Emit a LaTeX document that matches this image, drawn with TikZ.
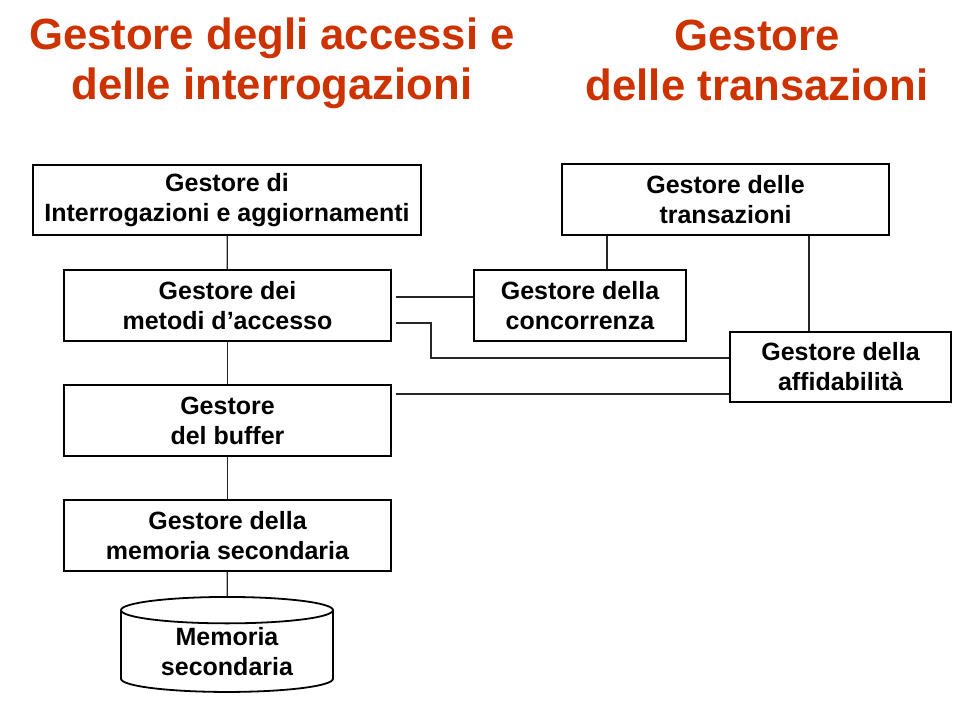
\documentclass[tikz,border=0pt]{standalone}
\usepackage{fontspec}
\setmainfont{Liberation Sans}
\usepackage{xcolor}
\usepackage{tikz}
\usetikzlibrary{shapes.geometric}
\definecolor{titlered}{RGB}{204,51,0}

\begin{document}
\begin{tikzpicture}[x=1pt, y=-1pt,
    modulo/.style={draw, line width=1.8pt, align=center, inner sep=0pt,
      font=\fontsize{25}{30}\selectfont\bfseries},
    titolo/.style={align=center, text=titlered,
      font=\fontsize{43.7}{50}\selectfont\bfseries},
    link/.style={line width=1.2pt, draw=black!85}]
        \useasboundingbox (0, 0) rectangle (976, 719);

        \node[titolo] (T1) at (272, 63) {Gestore degli accessi e\\delle interrogazioni};
        \node[titolo] (T2) at (757, 60) {Gestore\\delle transazioni};

        \node[modulo, minimum width=388pt, minimum height=70pt] (query) at (227, 200)
          {Gestore di\\Interrogazioni e aggiornamenti};
        \node[modulo, minimum width=327pt, minimum height=71pt] (metodi) at (227.5, 305.5)
          {Gestore dei\\metodi d’accesso};
        \node[modulo, minimum width=327pt, minimum height=71pt] (buffer) at (227.5, 420.5)
          {Gestore\\del buffer};
        \node[modulo, minimum width=327pt, minimum height=71pt] (memsec) at (227.5, 535.5)
          {Gestore della\\memoria secondaria};
        \node[modulo, cylinder, shape border rotate=90, aspect=0.2,
          minimum width=212pt, minimum height=95pt] (disco) at (227, 651.5)
          {Memoria\\secondaria};

        \node[modulo, minimum width=327pt, minimum height=71pt] (trans) at (725.5, 199.5)
          {Gestore delle\\transazioni};
        \node[modulo, minimum width=212pt, minimum height=71pt] (conc) at (580, 305.5)
          {Gestore della\\concorrenza};
        \node[modulo, minimum width=221pt, minimum height=70pt] (aff) at (840.5, 367)
          {Gestore della\\affidabilità};

        \draw[link] (query) -- (metodi);
        \draw[link] (metodi) -- (buffer);
        \draw[link] (buffer) -- (memsec);
        \draw[link] (memsec) -- (disco);

        \draw[link] ([xshift=27pt]conc.north) -- ([xshift=27pt]conc.north |- trans.south);
        \draw[link] ([xshift=-31.5pt]aff.north) -- ([xshift=-31.5pt]aff.north |- trans.south);

        \draw[link] ([xshift=4pt, yshift=8.5pt]metodi.east) -- ([yshift=8.5pt]conc.west);
        \draw[link] ([xshift=4pt, yshift=-17.5pt]metodi.east) -- ++(35, 0)
          |- ([yshift=9pt]aff.west);
        \draw[link] ([xshift=4pt, yshift=26.5pt]buffer.east) -- ([yshift=-27pt]aff.west);
      \end{tikzpicture}
\end{document}
